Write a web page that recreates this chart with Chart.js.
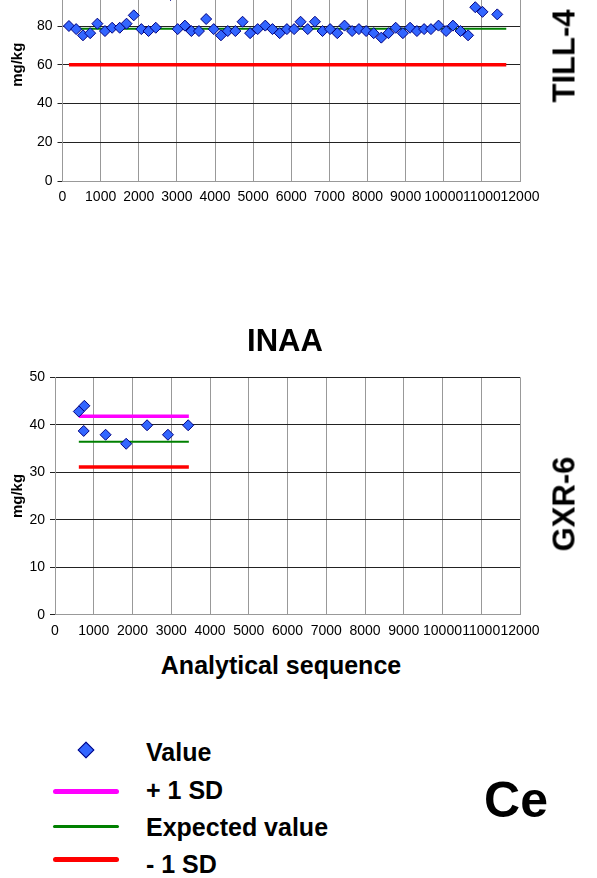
<!DOCTYPE html>
<html><head><meta charset="utf-8">
<script src="https://cdn.jsdelivr.net/npm/chart.js@4.4.0/dist/chart.umd.min.js"></script>
<style>
html,body{margin:0;padding:0;width:597px;height:878px;overflow:hidden;background:#fff;font-family:"Liberation Sans",Arial,sans-serif;}
.box{position:absolute;left:0;width:597px;height:300px;}
.t{position:absolute;font-weight:bold;color:#000;white-space:nowrap;line-height:1;}
.c{transform:translate(-50%,-50%);}
.r{transform:translate(-50%,-50%) rotate(-90deg);}
.ln{position:absolute;border-radius:3px;}
</style></head><body>
<div class="box" style="top:-80px"><canvas id="c1" width="597" height="300"></canvas></div>
<div class="box" style="top:350px"><canvas id="c2" width="597" height="300"></canvas></div>

<div class="t r" style="left:564px;top:56px;font-size:31px">TILL-4</div>
<div class="t c" style="left:285px;top:340px;font-size:31px">INAA</div>
<div class="t r" style="left:564px;top:504px;font-size:31px">GXR-6</div>
<div class="t c" style="left:281px;top:665px;font-size:25px">Analytical sequence</div>

<div style="position:absolute;left:80px;top:744px;width:10px;height:10px;background:#3366FF;border:1px solid #000080;transform:rotate(45deg)"></div>
<div class="t" style="left:146px;top:740px;font-size:25px">Value</div>
<div class="ln" style="left:53px;top:789px;width:66px;height:5px;background:#FF00FF"></div>
<div class="t" style="left:146px;top:778px;font-size:25px">+ 1 SD</div>
<div class="ln" style="left:53px;top:825px;width:66px;height:3px;background:#008000"></div>
<div class="t" style="left:146px;top:815px;font-size:25px">Expected value</div>
<div class="ln" style="left:53px;top:857px;width:66px;height:5px;background:#FF0000"></div>
<div class="t" style="left:146px;top:852px;font-size:25px">- 1 SD</div>
<div class="t c" style="left:516px;top:800px;font-size:50px">Ce</div>

<script>
// TILL-4 (top chart)
const till4Seq = [169,358,537,726,915,1114,1302,1501,1680,1869,2068,2257,2446,2834,3022,3211,3380,3579,3768,3967,4156,4335,4534,4723,4921,5120,5319,5508,5697,5886,6075,6244,6433,6622,6821,7019,7208,7397,7596,7775,7964,8163,8362,8550,8739,8928,9117,9296,9485,9664,9863,10062,10241,10440,10638,10827,11016,11404];
const till4Val = [80.0,78.4,75.2,76.3,81.2,77.4,79.1,79.1,81.2,85.5,78.4,77.4,79.1,96.0,78.4,80.2,77.4,77.4,83.6,78.4,75.2,77.4,77.4,82.2,76.3,78.4,80.2,78.4,76.3,78.4,78.4,82.2,78.4,82.2,77.4,78.4,76.3,80.2,77.4,78.4,77.4,76.3,74.0,76.3,79.1,76.3,79.1,77.4,78.4,78.4,80.2,77.4,80.2,77.4,75.2,89.7,87.3,86.0];
const till4Span = [169, 11640];
const till4Plus = 97.2, till4Exp = 78.6, till4Minus = 60.0;

// GXR-6 (bottom chart, INAA)
const gxrSeq = [615,758,741,1306,1837,2376,2915,3437];
const gxrVal = [42.8,44.0,38.7,37.9,36.0,39.9,37.9,39.9];
const gxrSpan = [615, 3454];
const gxrPlus = 41.8, gxrExp = 36.4, gxrMinus = 31.1;

const xTicks = [0,1000,2000,3000,4000,5000,6000,7000,8000,9000,10000,11000,12000];

Chart.defaults.font.family = '"Liberation Sans", Arial, sans-serif';
Chart.defaults.color = '#000';

function seg(span, v, color, w) {
  return {type:'line', data:[{x:span[0],y:v},{x:span[1],y:v}], borderColor:color, borderWidth:w,
    pointRadius:0, fill:false, borderCapStyle:'butt'};
}

function makeChart(id, seq, val, span, plus, exp, minus, yMax, yStep, yw, xh, padTop) {
  const pts = seq.map((x,i)=>({x:x, y:val[i]}));
  new Chart(document.getElementById(id), {
    type:'scatter',
    data:{datasets:[
      {data:pts, pointStyle:'rectRot', pointRadius:5.5, pointBackgroundColor:'#3366FF', pointBorderColor:'#000080', pointBorderWidth:1},
      seg(span, plus, '#FF00FF', 3.5),
      seg(span, exp, '#008000', 2),
      seg(span, minus, '#FF0000', 3.5)
    ]},
    options:{
      responsive:false, animation:false,
      layout:{padding:{top:padTop, right:77, left:0, bottom:0}},
      plugins:{legend:{display:false}, tooltip:{enabled:false}},
      scales:{
        x:{type:'linear', min:0, max:12000,
          afterBuildTicks(s){ s.ticks = xTicks.map(v=>({value:v})); },
          afterFit(s){ s.height = xh; },
          ticks:{autoSkip:false, maxRotation:0, minRotation:0, font:{size:14}, padding:8, color:'#000',
            callback:(v)=>String(v)},
          grid:{color:'#999', lineWidth:1, drawTicks:false},
          border:{color:'#999'}
        },
        y:{min:0, max:yMax,
          ticks:{stepSize:yStep, font:{size:14}, padding:5, color:'#000', callback:(v)=>String(v)},
          afterFit(s){ s.width = yw; },
          grid:{color:'#222', lineWidth:1, tickLength:5},
          border:{color:'#999'},
          title:{display:true, text:'mg/kg', font:{size:15, weight:'bold'}, padding:{top:9,bottom:0}, color:'#000'}
        }
      }
    }
  });
}

makeChart('c1', till4Seq, till4Val, till4Span, till4Plus, till4Exp, till4Minus, 120, 20, 62.5, 39, 28.5);
makeChart('c2', gxrSeq, gxrVal, gxrSpan, gxrPlus, gxrExp, gxrMinus, 50, 10, 55, 35.3, 27.3);
</script>
</body></html>
